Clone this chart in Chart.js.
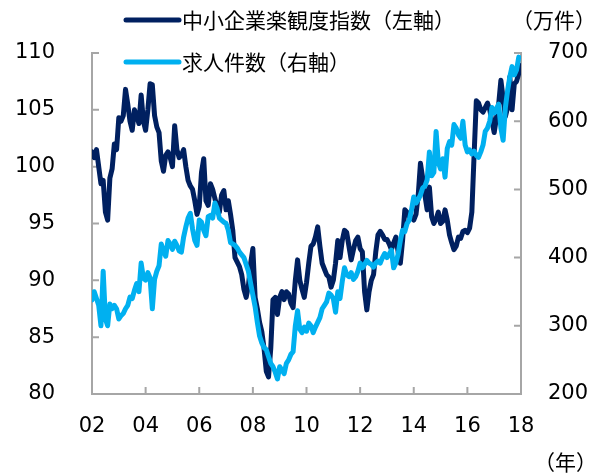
<!DOCTYPE html>
<html>
<head>
<meta charset="utf-8">
<script src="https://cdn.jsdelivr.net/npm/chart.js@4.4.1/dist/chart.umd.min.js"></script>
<style>
  html, body { margin: 0; padding: 0; background: #fff; }
  #wrap { width: 605px; height: 475px; }
</style>
</head>
<body>
<div id="wrap"><canvas id="chart" width="605" height="475"></canvas></div>
<script>
// monthly data, Jan 2002 onwards
const startYear = 2002;
const endYear = 2018;

// 中小企業楽観度指数 (left axis)
const sentiment = [
  101.3, 100.8, 101.5, 100, 98.5, 98.8, 96, 95.3, 99, 99.8, 102, 101.5,
  104.3, 104, 104.5, 106.8, 105.5, 104, 103.2, 105, 104.5, 103.8, 106.3, 104,
  103.2, 105, 107.3, 107.2, 104.5, 103.5, 103, 100.5, 99.6, 101, 101.3, 100.8,
  100, 103.6, 101.5, 100.8, 101, 101.5, 100, 98.8, 98.3, 98, 97, 95.8,
  96.5, 99.5, 100.7, 97, 96.6, 98.5, 98, 97.2, 96.5, 96, 97.5, 97.9,
  96.2, 97, 95.8, 94.4, 92, 91.6, 91.2, 90.5, 89.2, 88.5, 89.5, 91.5,
  92.8, 88.5, 87.5, 86.3, 85.5, 84, 82, 81.5, 84, 88.3, 88.5, 87,
  88.5, 89, 88.3, 89, 88.8, 88, 87.6, 90, 91.8, 90, 89.2, 88.5,
  89.8, 91.5, 93, 93.2, 93.8, 94.7, 93, 91.5, 91, 90.5, 90.3, 89.4,
  90, 91.5, 93.5, 92, 93.5, 94.4, 94.2, 93, 91.8, 92.7, 93.5, 93.8,
  92.8, 92.5, 89, 87.4, 89, 90, 90.5, 92.5, 94, 94.3, 94, 93.6,
  93.6, 93.2, 92.7, 93.3, 93.8, 92.5, 91.5, 93.5, 96.2, 96, 95.6, 95.5,
  95.3, 95.8, 97.5, 100.3, 99, 97.5, 96.2, 98.2, 95.6, 95, 95.4, 96,
  95, 95.2, 96.2, 95.3, 94, 93.3, 92.7, 93, 93.8, 93.7, 94.3, 94.4,
  94.2, 94.6, 96, 101, 105.8, 105.6, 105, 104.8, 105.2, 105.6, 105, 104,
  103, 104.3, 105.5, 107.6, 106, 104.4, 105.2, 107.9, 105, 107.3, 107.5, 108.2,
  108.9
];

// 求人件数 (right axis, 万件)
const jobOffers = [
  338, 350, 340, 330, 300, 380, 310, 300, 332, 325, 330, 325,
  310, 315, 318, 325, 330, 342, 340, 352, 362, 350, 392, 370,
  367, 378, 370, 325, 368, 380, 388, 420, 410, 402, 425, 420,
  412, 424, 418, 410, 408, 430, 445, 458, 465, 442, 425, 418,
  455, 452, 440, 432, 460, 462, 458, 480, 472, 458, 455, 452,
  450, 440, 422, 420, 418, 414, 408, 404, 400, 390, 380, 362,
  345, 328, 305, 285, 275, 268, 265, 255, 245, 240, 232, 222,
  240, 235, 230, 245, 250, 258, 262, 300, 322, 295, 290, 298,
  292, 304, 300, 290, 298, 305, 312, 325, 330, 335, 348, 345,
  340, 320, 350, 340, 365, 385, 375, 372, 378, 368, 372, 380,
  392, 385, 390, 396, 392, 390, 386, 392, 395, 392, 400, 406,
  400, 405, 411, 385, 392, 405, 425, 440, 438, 450, 455, 470,
  489, 480, 485, 492, 502, 505, 514, 555, 520, 525, 585, 540,
  530, 545, 518, 560, 570, 565, 595, 590, 580, 575, 600, 565,
  555, 558, 552, 556, 550, 547, 555, 565, 585, 590, 600, 620,
  612, 618, 625, 590, 572, 620, 645, 665, 680, 668, 675, 694
];

const seriesLabels = ["中小企業楽観度指数（左軸）", "求人件数（右軸）"];
const rightUnit = "（万件）";
const xUnit = "（年）";

const navy = "#002060";
const sky = "#00b0f0";
const axisGray = "#a6a6a6";
const numFont = "Verdana, 'DejaVu Sans', sans-serif";
const jpFont = "'Noto Sans CJK JP', 'Noto Sans', sans-serif";

const toPoints = arr => arr.map((v, i) => ({ x: startYear + i / 12, y: v }));

// ticks drawn inward, plus legend and unit labels
const decorations = {
  id: "decorations",
  beforeDatasetsDraw(chart) {
    const { ctx, chartArea: a, scales } = chart;
    ctx.save();
    ctx.strokeStyle = axisGray;
    ctx.lineWidth = 2;
    ctx.beginPath();
    scales.x.ticks.forEach(t => {
      const px = scales.x.getPixelForValue(t.value);
      ctx.moveTo(px, a.bottom);
      ctx.lineTo(px, a.bottom - 7);
    });
    scales.y.ticks.forEach(t => {
      const py = scales.y.getPixelForValue(t.value);
      ctx.moveTo(a.left, py);
      ctx.lineTo(a.left + 7, py);
    });
    scales.y1.ticks.forEach(t => {
      const py = scales.y1.getPixelForValue(t.value);
      ctx.moveTo(a.right, py);
      ctx.lineTo(a.right - 7, py);
    });
    ctx.stroke();
    ctx.restore();
  },
  afterDraw(chart) {
    const { ctx } = chart;
    ctx.save();
    ctx.font = "21px " + jpFont;
    ctx.textBaseline = "middle";
    ctx.fillStyle = "#000";
    const rows = [20, 62];
    [0, 1].forEach(i => {
      const ds = chart.data.datasets[i];
      ctx.strokeStyle = ds.borderColor;
      ctx.lineWidth = 5;
      ctx.lineCap = "round";
      ctx.beginPath();
      ctx.moveTo(126, rows[i]);
      ctx.lineTo(179, rows[i]);
      ctx.stroke();
      ctx.fillText(ds.label, 182, rows[i]);
    });
    ctx.fillText(rightUnit, 512, 20);
    ctx.fillText(xUnit, 534, 462);
    ctx.restore();
  }
};

new Chart(document.getElementById("chart"), {
  type: "line",
  data: {
    datasets: [
      {
        label: seriesLabels[0],
        data: toPoints(sentiment),
        yAxisID: "y",
        borderColor: navy,
        borderWidth: 5,
        pointRadius: 0,
        tension: 0,
        borderJoinStyle: "round",
        borderCapStyle: "round",
        order: 1
      },
      {
        label: seriesLabels[1],
        data: toPoints(jobOffers),
        yAxisID: "y1",
        borderColor: sky,
        borderWidth: 5,
        pointRadius: 0,
        tension: 0,
        borderJoinStyle: "round",
        borderCapStyle: "round",
        order: 0
      }
    ]
  },
  options: {
    responsive: false,
    animation: false,
    layout: { padding: { top: 53, left: 0, right: 0, bottom: 0 } },
    plugins: {
      legend: { display: false },
      tooltip: { enabled: false }
    },
    scales: {
      x: {
        type: "linear",
        min: startYear,
        max: endYear,
        grid: { display: false, drawTicks: false },
        border: { display: true, color: axisGray, width: 2 },
        ticks: {
          stepSize: 2,
          padding: 20,
          color: "#000",
          font: { family: numFont, size: 21 },
          callback: v => String(v % 100).padStart(2, "0")
        },
        afterFit: s => { s.height = 81; }
      },
      y: {
        position: "left",
        min: 80,
        max: 110,
        grid: { display: false, drawTicks: false },
        border: { display: true, color: axisGray, width: 2 },
        ticks: { stepSize: 5, padding: 37, color: "#000", font: { family: numFont, size: 21 } },
        afterFit: s => { s.width = 92; }
      },
      y1: {
        position: "right",
        min: 200,
        max: 700,
        grid: { display: false, drawTicks: false },
        border: { display: true, color: axisGray, width: 2 },
        ticks: { stepSize: 100, padding: 27, color: "#000", font: { family: numFont, size: 21 } },
        afterFit: s => { s.width = 84; }
      }
    }
  },
  plugins: [decorations]
});
</script>
</body>
</html>
